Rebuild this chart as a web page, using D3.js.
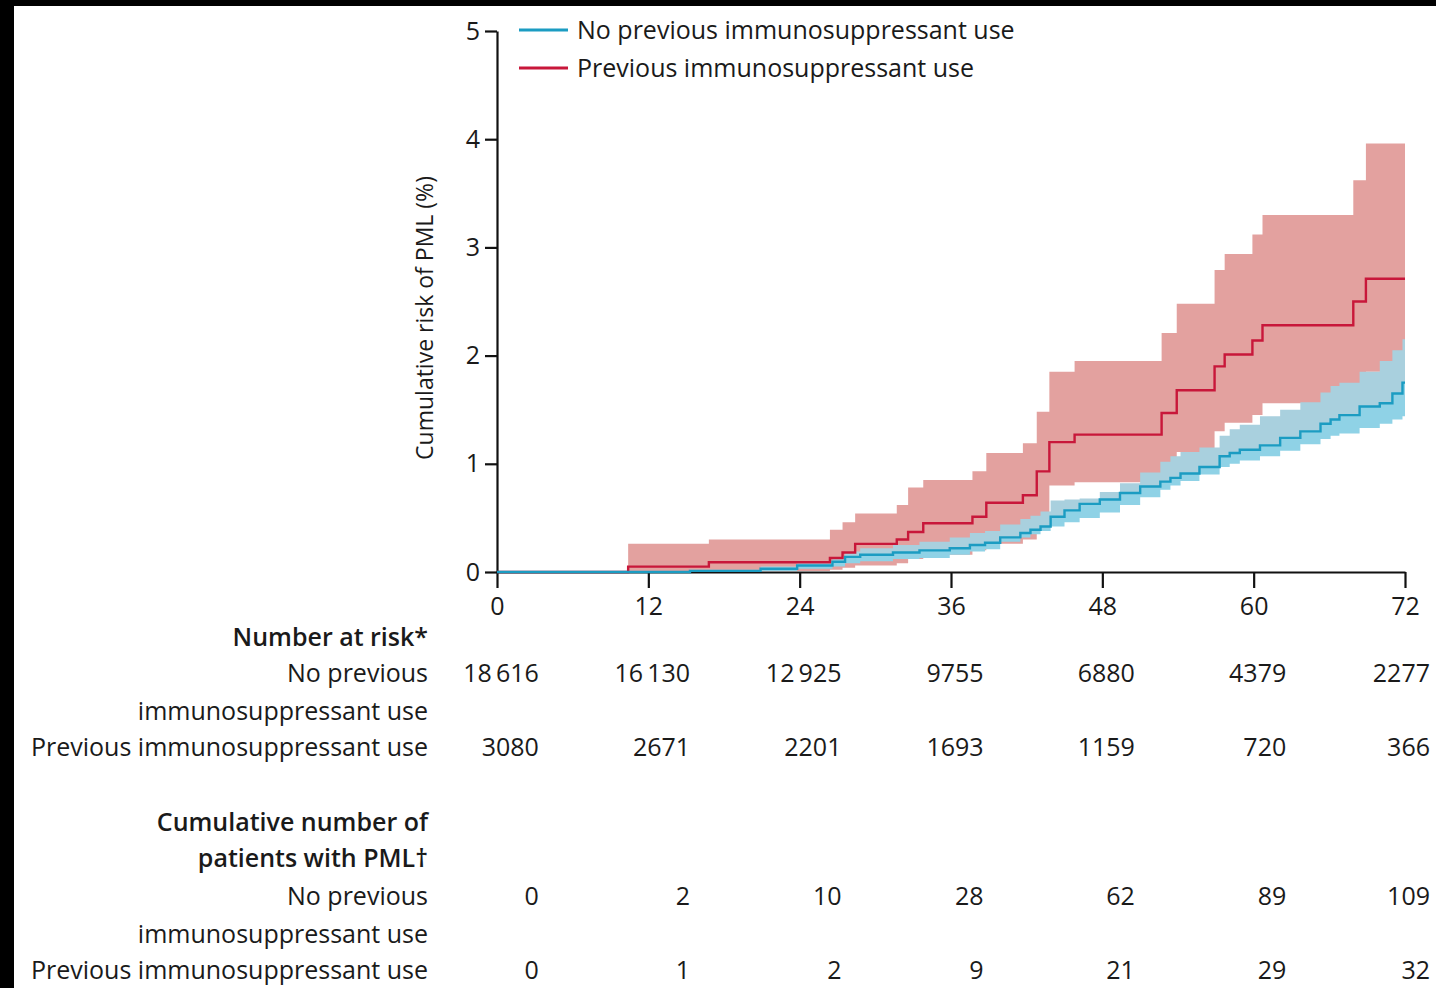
<!DOCTYPE html>
<html><head><meta charset="utf-8">
<script src="https://cdn.jsdelivr.net/npm/d3@7"></script>
<style>
html,body{margin:0;padding:0;background:#000;}
svg{display:block;}
text{font-family:"Open Sans","Noto Sans",sans-serif;fill:#1a1a1a;}
</style></head>
<body>
<svg id="chart" width="1436" height="988"></svg>
<script>
// ---------------- data ----------------
const months = [0, 12, 24, 36, 48, 60, 72];
const yTicks = [0, 1, 2, 3, 4, 5];
const seriesNames = ["No previous immunosuppressant use", "Previous immunosuppressant use"];
const yTitle = "Cumulative risk of PML (%)";

// Kaplan–Meier step estimates (months, %)
const blueTimes = [0, 15.3, 20.9, 23.8, 26.6, 27.6, 28.8, 31.4, 33.5, 35.9, 37.5, 38.7, 39.9, 41.5, 42.3, 43.1, 43.9, 45.0, 46.2, 47.8, 49.4, 51.0, 52.6, 53.4, 54.2, 55.7, 57.3, 58.1, 58.9, 60.5, 62.1, 63.7, 65.3, 66.1, 66.8, 68.4, 70.0, 71.0, 71.8];
const blueEst   = [0, 0.01, 0.03, 0.06, 0.095, 0.14, 0.16, 0.18, 0.20, 0.22, 0.25, 0.27, 0.32, 0.36, 0.39, 0.42, 0.51, 0.57, 0.63, 0.67, 0.73, 0.79, 0.835, 0.87, 0.91, 0.97, 1.07, 1.10, 1.13, 1.17, 1.24, 1.30, 1.37, 1.41, 1.45, 1.53, 1.56, 1.65, 1.75];
const blueLo    = [0, 0, 0.01, 0.03, 0.05, 0.08, 0.10, 0.12, 0.13, 0.16, 0.19, 0.21, 0.28, 0.32, 0.35, 0.38, 0.42, 0.46, 0.50, 0.55, 0.62, 0.69, 0.76, 0.80, 0.84, 0.90, 0.97, 1.00, 1.03, 1.07, 1.12, 1.18, 1.23, 1.26, 1.28, 1.33, 1.37, 1.41, 1.44];
const blueHi    = [0, 0.02, 0.05, 0.09, 0.13, 0.19, 0.22, 0.25, 0.28, 0.32, 0.36, 0.38, 0.44, 0.49, 0.52, 0.56, 0.66, 0.67, 0.68, 0.74, 0.82, 0.92, 1.02, 1.07, 1.11, 1.15, 1.26, 1.32, 1.36, 1.44, 1.50, 1.57, 1.66, 1.72, 1.75, 1.85, 1.95, 2.05, 2.15];

const redTimes = [0, 10.4, 16.8, 26.4, 27.4, 28.4, 31.7, 32.6, 33.8, 37.7, 38.8, 41.7, 42.8, 43.8, 45.8, 52.7, 53.9, 56.9, 57.7, 59.9, 60.7, 67.9, 68.9];
const redEst   = [0, 0.05, 0.09, 0.13, 0.18, 0.26, 0.30, 0.37, 0.45, 0.51, 0.64, 0.71, 0.93, 1.20, 1.27, 1.47, 1.68, 1.90, 2.01, 2.14, 2.28, 2.50, 2.71];
const redLo    = [0, 0.005, 0.01, 0.02, 0.04, 0.06, 0.08, 0.12, 0.16, 0.20, 0.26, 0.30, 0.45, 0.80, 0.83, 0.95, 1.11, 1.30, 1.38, 1.45, 1.56, 1.70, 1.85];
const redHi    = [0, 0.26, 0.30, 0.39, 0.46, 0.54, 0.62, 0.78, 0.85, 0.93, 1.10, 1.19, 1.48, 1.85, 1.95, 2.21, 2.48, 2.79, 2.94, 3.12, 3.30, 3.62, 3.96];

// risk table
const atRiskNo   = [18616, 16130, 12925, 9755, 6880, 4379, 2277];
const atRiskPrev = [3080, 2671, 2201, 1693, 1159, 720, 366];
const pmlNo      = [0, 2, 10, 28, 62, 89, 109];
const pmlPrev    = [0, 1, 2, 9, 21, 29, 32];

// ---------------- styles ----------------
const C = {
  blueLine: "#1b9cc2", redLine: "#c8173a",
  blueBandLow: "#8fd2e6", blueBandHigh: "#a9d0de", redBand: "#e3a19f"
};
const FS = 25;
const W = 1436;

const svg = d3.select("#chart");
svg.append("rect").attr("x", 14).attr("y", 6).attr("width", W).attr("height", 988).attr("fill", "#fff");

const x = d3.scaleLinear().domain([0, 72]).range([497, 1405]);
const y = d3.scaleLinear().domain([0, 5]).range([572, 31]);

function toPts(times, vals) {
  const p = times.map((t, i) => ({t, v: vals[i]}));
  p.push({t: 72, v: vals[vals.length - 1]});
  return p;
}
function toBand(times, lo, hi) {
  const p = times.map((t, i) => ({t, lo: lo[i], hi: hi[i]}));
  p.push({t: 72, lo: lo[lo.length - 1], hi: hi[hi.length - 1]});
  return p;
}
const area = d3.area().curve(d3.curveStepAfter).x(d => x(d.t)).y0(d => y(d.lo)).y1(d => y(d.hi));
const line = d3.line().curve(d3.curveStepAfter).x(d => x(d.t)).y(d => y(d.v));

// bands
svg.append("path").datum(toBand(redTimes, redLo, redHi)).attr("d", area).attr("fill", C.redBand);
svg.append("path").datum(toBand(blueTimes, blueLo, blueEst)).attr("d", area).attr("fill", C.blueBandLow);
svg.append("path").datum(toBand(blueTimes, blueEst, blueHi)).attr("d", area).attr("fill", C.blueBandHigh);

// axes
const yAxis = svg.append("g").attr("transform", `translate(${x(0)},0)`)
  .call(d3.axisLeft(y).tickValues(yTicks).tickFormat(d3.format("d")).tickSize(12).tickSizeOuter(0).tickPadding(5));
const xAxis = svg.append("g").attr("transform", `translate(0,${y(0)})`)
  .call(d3.axisBottom(x).tickValues(months).tickFormat(d3.format("d")).tickSize(16).tickSizeOuter(0).tickPadding(9));
[yAxis, xAxis].forEach(g => {
  g.selectAll("path,line").attr("stroke", "#111").attr("stroke-width", 2.2);
  g.selectAll("text").attr("font-size", FS).attr("fill", "#1a1a1a").attr("font-family", null);
});

// lines
svg.append("path").datum(toPts(redTimes, redEst)).attr("d", line)
  .attr("fill", "none").attr("stroke", C.redLine).attr("stroke-width", 2.4);
svg.append("path").datum(toPts(blueTimes, blueEst)).attr("d", line)
  .attr("fill", "none").attr("stroke", C.blueLine).attr("stroke-width", 2.4);

// y title
svg.append("text").attr("transform", `translate(433,318) rotate(-90)`)
  .attr("text-anchor", "middle").attr("font-size", 23).text(yTitle);

// legend
const leg = svg.append("g");
[C.blueLine, C.redLine].forEach((c, i) => {
  const yy = 30 + i * 38;
  leg.append("line").attr("x1", 519).attr("x2", 568).attr("y1", yy).attr("y2", yy)
    .attr("stroke", c).attr("stroke-width", 3);
  leg.append("text").attr("x", 577).attr("y", yy).attr("dy", "0.35em")
    .attr("font-size", FS).text(seriesNames[i]);
});

// risk table
const fmt = n => n >= 10000 ? d3.format(",")(n).replace(",", "\u2009") : String(n);
const labelX = 428;
const tbl = svg.append("g");
function label(txt, cy, bold) {
  tbl.append("text").attr("x", labelX).attr("y", cy).attr("dy", "0.35em")
    .attr("text-anchor", "end").attr("font-size", FS)
    .attr("font-weight", bold ? 650 : 400).text(txt);
}
// measure column widths so the widest number in each column sits roughly centred on its tick
const meas = svg.append("text").attr("font-size", FS).attr("visibility", "hidden");
const colW = months.map((m, i) => {
  return d3.max([atRiskNo[i], atRiskPrev[i]], v => { meas.text(fmt(v)); return meas.node().getComputedTextLength(); });
});
meas.remove();
const colRight = months.map((m, i) => Math.min(x(m) + colW[i] / 2 + 4, W - 6));
function row(vals, cy) {
  vals.forEach((v, i) => {
    tbl.append("text").attr("x", colRight[i]).attr("y", cy).attr("dy", "0.35em")
      .attr("text-anchor", "end").attr("font-size", FS).text(fmt(v));
  });
}
label("Number at risk*", 637, true);
label("No previous", 673); row(atRiskNo, 673);
label("immunosuppressant use", 711);
label("Previous immunosuppressant use", 747); row(atRiskPrev, 747);
label("Cumulative number of", 822, true);
label("patients with PML\u2020", 858, true);
label("No previous", 896); row(pmlNo, 896);
label("immunosuppressant use", 934);
label("Previous immunosuppressant use", 970); row(pmlPrev, 970);
</script>
</body></html>
